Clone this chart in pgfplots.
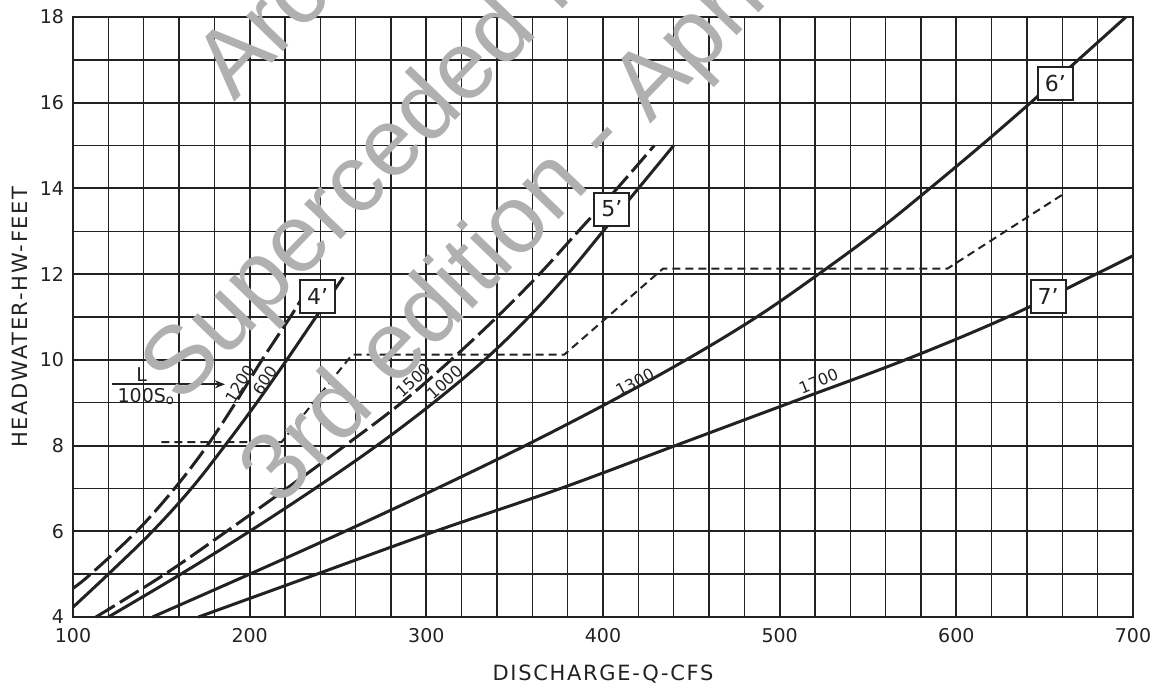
\documentclass[border=0pt]{standalone}
\usepackage{fontspec}
\setmainfont{DejaVu Sans}
\newfontfamily\wmfont{Liberation Sans}
\usepackage{pgfplots}
\pgfplotsset{compat=1.18}
\usetikzlibrary{arrows.meta}
\definecolor{ink}{HTML}{222222}
\definecolor{wm}{HTML}{B0B0B0}
\begin{document}
\begin{tikzpicture}
\begin{axis}[
  scale only axis, width=530pt, height=300pt,
  xmin=100, xmax=700, ymin=4, ymax=18,
  xtick={100,200,...,700}, ytick={4,6,...,18},
  minor xtick={100,120,...,700}, minor ytick={4,5,...,18},
  grid=both,
  major grid style={line width=1.0pt, draw=ink},
  minor grid style={line width=0.75pt, draw=ink},
  axis line style={line width=1.2pt, draw=ink},
  major tick length=0pt, minor tick length=0pt,
  /pgf/number format/assume math mode=true,
  /pgf/number format/1000 sep={},
  tick label style={font=\fontsize{9.5}{10}\selectfont, text=ink},
  xticklabel style={yshift=-2pt},
  yticklabel style={xshift=-1pt},
  xlabel={DISCHARGE-Q-CFS},
  ylabel={HEADWATER-HW-FEET},
  xlabel style={font=\addfontfeatures{LetterSpace=8}\fontsize{10.5}{12}\selectfont, text=ink,
    at={(axis description cs:0.5,-0.105)}, anchor=base},
  ylabel style={font=\addfontfeatures{LetterSpace=8}\fontsize{10.5}{12}\selectfont, text=ink,
    at={(axis description cs:-0.05,0.5)}, anchor=center},
  clip=false,
]
% 4' L/100So = 1200 (dashed)
\addplot[ink, line width=1.5pt, dash pattern=on 11pt off 3pt, smooth, tension=0.6] coordinates {
 (100,4.67) (110,5) (136,6) (157.5,7) (176,8) (192,9) (207,10) (223,11) (229,11.4)};
% 4' L/100So = 600 (solid)
\addplot[ink, line width=1.5pt, smooth, tension=0.6] coordinates {
 (100,4.23) (120,5) (145,6) (167,7) (186,8) (204,9) (221,10) (237.5,11) (253,11.93)};
% 5' 1500 (dashed)
\addplot[ink, line width=1.5pt, dash pattern=on 11pt off 3pt, smooth, tension=0.6] coordinates {
 (113,4) (152,5) (187,6) (221,7) (254,8) (286,9) (314,10) (340,11) (364,12) (386,13) (408,14) (429,15)};
% 5' 1000 (solid)
\addplot[ink, line width=1.5pt, smooth, tension=0.6] coordinates {
 (120,4) (161,5) (200,6) (237,7) (272,8) (304,9) (333,10) (358,11) (380,12) (400,13) (420,14) (440,15)};
% 6' 1300
\addplot[ink, line width=1.5pt, smooth, tension=0.6] coordinates {
 (145,4) (200,5) (254,6) (306,7) (356,8) (403,9) (447,10) (487,11) (522,12) (555,13) (585,14) (614,15) (642,16) (669,17) (696,18)};
% 7' 1700
\addplot[ink, line width=1.5pt, smooth, tension=0.6] coordinates {
 (171,4) (238,5) (305,6) (376,7) (441,8) (506,9) (571,10) (629,11) (679,12) (700,12.43)};
% boundary (short dashes)
\addplot[ink, line width=1pt, dash pattern=on 4pt off 2.5pt] coordinates {
 (150,8.08) (218,8.08) (258,10.12) (378,10.12) (434,12.13) (595,12.13) (661,13.88)};

% size boxes
\tikzset{sz/.style={draw=ink, line width=1pt, fill=white, minimum width=17.5pt, minimum height=16.5pt, inner sep=0pt, font=\fontsize{11}{12}\selectfont, text=ink}}
\node[sz] at (axis cs:238.4,11.47) {4'};
\node[sz] at (axis cs:405,13.52) {5'};
\node[sz] at (axis cs:656,16.45) {6'};
\node[sz] at (axis cs:652,11.47) {7'};

% curve labels
\tikzset{cl/.style={font=\fontsize{8}{9}\selectfont, text=ink, inner sep=0pt}}
\node[cl, rotate=58] at (axis cs:194.5,9.44) {1200};
\node[cl, rotate=55] at (axis cs:208.7,9.52) {600};
\node[cl, rotate=42] at (axis cs:292.6,9.52) {1500};
\node[cl, rotate=42] at (axis cs:310.5,9.48) {1000};
\node[cl, rotate=28] at (axis cs:418,9.48) {1300};
\node[cl, rotate=22] at (axis cs:522,9.5) {1700};

% L / 100 So
\node[cl, font=\fontsize{9.5}{10}\selectfont] at (axis cs:138.8,9.66) {L};
\node[cl, font=\fontsize{9.5}{10}\selectfont] at (axis cs:141.5,9.15) {100S\textsubscript{o}};
\draw[ink, line width=0.9pt, -{Stealth[length=5pt,width=4pt]}] (axis cs:122,9.43) -- (axis cs:186,9.43);

% watermark
\tikzset{wmk/.style={rotate=46, anchor=base west, inner sep=0pt, text=wm, font=\wmfont\fontsize{48}{48}\selectfont}}
\node[wmk] at (axis cs:191,16.0) {Archived};
\node[wmk] at (axis cs:160.6,8.93) {Superceded by};
\node[wmk] at (axis cs:217,6.52) {3rd edition - April 2012};
\end{axis}
\pgfresetboundingbox
\path[use as bounding box] ([shift={(-36.5pt,-35pt)}]current axis.south west) rectangle ([shift={(16.5pt,8.5pt)}]current axis.north east);
\end{tikzpicture}
\end{document}
